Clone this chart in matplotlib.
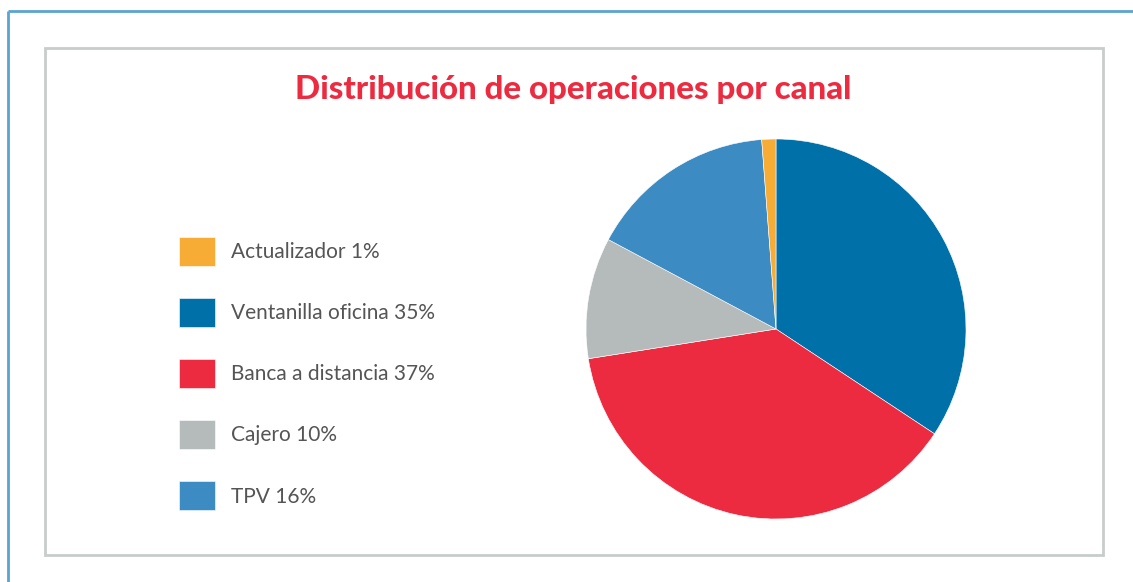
import matplotlib.pyplot as plt
from matplotlib.lines import Line2D
from matplotlib.patches import Rectangle

canales = ["Ventanilla oficina", "Banca a distancia", "Cajero", "TPV", "Actualizador"]
valores = [34.3, 38.2, 10.3, 16.0, 1.2]
etiquetas = ["Ventanilla oficina 35%", "Banca a distancia 37%", "Cajero 10%", "TPV 16%", "Actualizador 1%"]
colores = ["#0070A8", "#EC2B40", "#B5BBBB", "#3C8BC2", "#F7AC35"]
orden_leyenda = [4, 0, 1, 2, 3]

W, H = 1133, 582
fig = plt.figure(figsize=(W / 100, H / 100), dpi=100)

# outer blue frame (top and left only) and inner grey box
fig.lines.append(Line2D([8 / W, 1.01], [1 - 11 / H] * 2, transform=fig.transFigure,
                        color="#5BA3D0", lw=2, solid_capstyle="butt"))
fig.lines.append(Line2D([8 / W] * 2, [-0.01, 1 - 11 / H], transform=fig.transFigure,
                        color="#5BA3D0", lw=2, solid_capstyle="butt"))
fig.patches.append(Rectangle((45 / W, 1 - 555 / H), (1103 - 45) / W, (555 - 48) / H,
                             transform=fig.transFigure, fill=False, edgecolor="#C8CCCB", lw=2))

ax = fig.add_axes([586 / W, 63 / H, 380 / W, 380 / H])
wedges, _ = ax.pie(valores, colors=colores, startangle=90, counterclock=False,
                   wedgeprops=dict(edgecolor="white", linewidth=0.4))
ax.set_xlim(-1, 1)
ax.set_ylim(-1, 1)
ax.set_aspect("equal")

fig.text(573 / W, 1 - 90 / H, "Distribución de operaciones por canal", ha="center", va="center",
         fontsize=23.8, fontweight="black", color="#EC2B40", family="Lato")

fig.legend([wedges[i] for i in orden_leyenda], [etiquetas[i] for i in orden_leyenda],
           loc="upper left", bbox_to_anchor=(179 / W, 1 - 237 / H), borderaxespad=0, borderpad=0,
           frameon=False, handlelength=1.75, handleheight=1.75, labelspacing=1.55,
           handletextpad=0.75, prop=dict(family="Lato", weight="normal", size=15),
           labelcolor="#555555")

fig.savefig("out.png", dpi=100)
